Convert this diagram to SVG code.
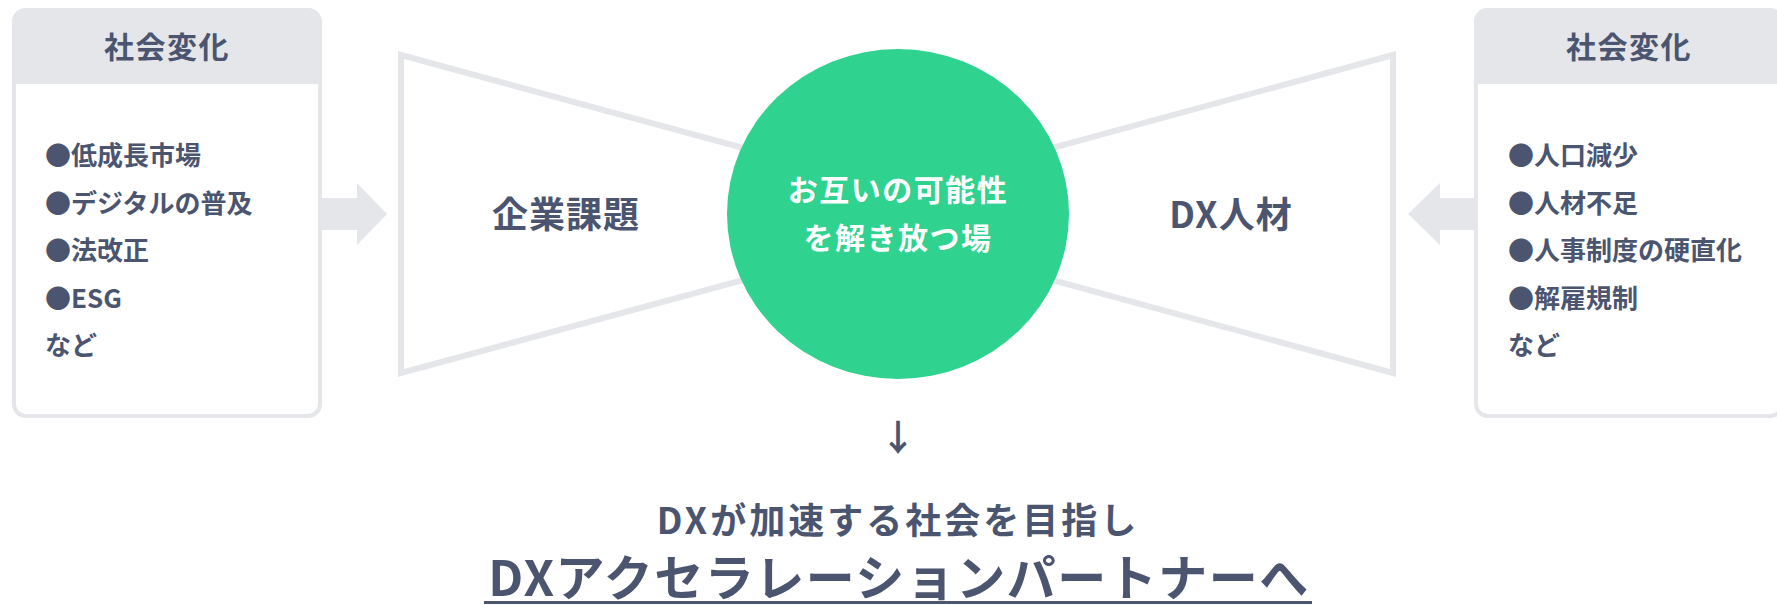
<svg xmlns="http://www.w3.org/2000/svg" width="1777" height="605" viewBox="0 0 1777 605">
<style>
  text { font-family: "Noto Sans CJK JP", "Noto Sans", sans-serif; font-weight: 700; fill: #4b5570; }
  .box { fill: #ffffff; stroke: #e5e6e9; stroke-width: 4; }
  .hdr { fill: #e5e6e9; }
  .hdrtxt { font-size: 30px; letter-spacing: 1.5px; text-anchor: middle; }
  .item { font-size: 26px; }
  .funnel { fill: #ffffff; stroke: #e5e6e9; stroke-width: 6; stroke-linejoin: miter; }
  .blk { fill: #e5e6e9; }
  .lbl { font-size: 36px; letter-spacing: 1px; text-anchor: middle; }
  .ctr { font-size: 30px; letter-spacing: 1.5px; text-anchor: middle; fill: #ffffff; }
</style>
<rect width="1777" height="605" fill="#ffffff"/>

<g id="connectors">
  <polygon class="blk" points="322,198 357,198 357,183 387,214 357,245 357,230 322,230"/>
  <polygon class="blk" points="1475,198 1440,198 1440,183 1408,214 1440,245 1440,230 1475,230"/>
  <text x="898" y="451" style="font-size:36px;text-anchor:middle">↓</text>
</g>

<g id="left-box">
  <rect class="box" x="14" y="10" width="306" height="406" rx="12"/>
  <path class="hdr" d="M12,84 V22 A14,14 0 0 1 26,8 H307 A14,14 0 0 1 321,22 V84 Z"/>
  <text class="hdrtxt" x="167" y="58">社会変化</text>
  <text class="item" x="45" y="165">●低成長市場</text>
  <text class="item" x="45" y="213">●デジタルの普及</text>
  <text class="item" x="45" y="260">●法改正</text>
  <text class="item" x="45" y="308">●ESG</text>
  <text class="item" x="45" y="355">など</text>
</g>

<g id="right-box">
  <rect class="box" x="1476" y="10" width="306" height="406" rx="12"/>
  <path class="hdr" d="M1474,84 V22 A14,14 0 0 1 1488,8 H1769 A14,14 0 0 1 1783,22 V84 Z"/>
  <text class="hdrtxt" x="1629" y="58">社会変化</text>
  <text class="item" x="1508" y="165">●人口減少</text>
  <text class="item" x="1508" y="213">●人材不足</text>
  <text class="item" x="1508" y="260">●人事制度の硬直化</text>
  <text class="item" x="1508" y="308">●解雇規制</text>
  <text class="item" x="1508" y="355">など</text>
</g>

<g id="left-funnel">
  <polygon class="funnel" points="401,55 898,190 898,238 401,373"/>
  <text class="lbl" x="566" y="228">企業課題</text>
</g>

<g id="right-funnel">
  <polygon class="funnel" points="1393,55 898,190 898,238 1393,373"/>
  <text class="lbl" x="1231" y="228">DX人材</text>
</g>

<g id="center">
  <ellipse cx="898" cy="214" rx="171" ry="165" fill="#2fd28e"/>
  <text class="ctr" x="898" y="201">お互いの可能性</text>
  <text class="ctr" x="898" y="249">を解き放つ場</text>
</g>

<g id="bottom">
  <text x="898" y="534" style="font-size:36px;letter-spacing:3px;text-anchor:middle">DXが加速する社会を目指し</text>
  <text x="899" y="596" style="font-size:49px;letter-spacing:1.5px;text-anchor:middle">DXアクセラレーションパートナーへ</text>
  <rect x="484" y="601" width="828" height="3" fill="#4b5570"/>
</g>
</svg>
